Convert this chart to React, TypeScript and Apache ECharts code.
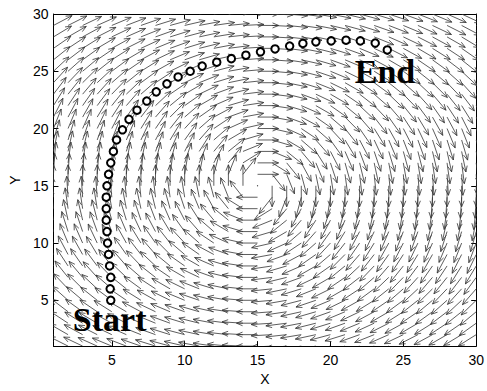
import React, { useEffect, useRef } from 'react';
import * as echarts from 'echarts';

// Quiver grid (arrow tails)
const GRID_X = [1, 2, 3, 4, 5, 6, 7, 8, 9, 10, 11, 12, 13, 14, 15, 16, 17, 18, 19, 20, 21, 22, 23, 24, 25, 26, 27, 28, 29, 30];
const GRID_Y = [1, 2, 3, 4, 5, 6, 7, 8, 9, 10, 11, 12, 13, 14, 15, 16, 17, 18, 19, 20, 21, 22, 23, 24, 25, 26, 27, 28, 29, 30];
// Clockwise vortex: centre and horizontal stretching of far arrows
const VORTEX_CENTER = [15, 15];
const FAR_STRETCH = 0.87;
const STRETCH_REF = 14;

// Trajectory (circles)
const TRACK_X = [4.93, 4.89, 4.93, 4.85, 4.78, 4.71, 4.67, 4.62, 4.62, 4.62, 4.67, 4.78, 4.93, 5.11, 5.33,
  5.73, 6.18, 6.73, 7.4, 8.05, 8.78, 9.55, 10.38, 11.2, 12.2, 13.2, 14.2, 15.2, 16.2, 17.2,
  18.11, 19.0, 20.05, 21.07, 22.05, 23.07, 23.9];
const TRACK_Y = [5, 6, 7, 8, 9, 10, 11, 12, 13, 14, 15, 16, 17, 18, 19,
  19.89, 20.8, 21.6, 22.4, 23.2, 23.9, 24.5, 25.0, 25.45, 25.79, 26.1, 26.4, 26.7, 26.95, 27.2,
  27.43, 27.57, 27.65, 27.71, 27.65, 27.46, 26.86];

const X_TICKS = [5, 10, 15, 20, 25, 30];
const Y_TICKS = [5, 10, 15, 20, 25, 30];

const LABEL_TEXT = ['Start', 'End'];
const LABEL_X = [2.33, 21.67];
const LABEL_Y = [3.35, 24.96];

const SANS = '"Liberation Sans", Arial, sans-serif';
const SERIF = '"Liberation Serif", "Times New Roman", serif';

export default function App() {
  const ref = useRef<HTMLDivElement>(null);
  useEffect(() => {
    if (!ref.current) return;
    const chart = echarts.init(ref.current, null, { renderer: 'svg' });

    const gridPts: number[][] = [];
    for (const gx of GRID_X) for (const gy of GRID_Y) gridPts.push([gx, gy]);
    const track = TRACK_X.map((x, i) => [x, TRACK_Y[i]]);

    const axisCommon = {
      type: 'value' as const,
      min: 1,
      max: 30,
      axisLine: { show: true, onZero: false, lineStyle: { color: '#000', width: 1 } },
      splitLine: { show: false },
    };

    chart.setOption({
      animation: false,
      backgroundColor: '#fff',
      grid: { left: 45, right: 7, top: 14, bottom: 34, containLabel: false },
      xAxis: [
        {
          ...axisCommon,
          position: 'bottom',
          name: 'X',
          nameLocation: 'middle',
          nameGap: 22,
          nameTextStyle: { color: '#000', fontSize: 14, fontFamily: SANS },
          axisTick: { show: true, inside: true, length: 5, customValues: X_TICKS, lineStyle: { color: '#000' } },
          axisLabel: { customValues: X_TICKS, color: '#000', fontSize: 14, fontFamily: SANS, margin: 7 },
        },
        {
          ...axisCommon,
          position: 'top',
          axisTick: { show: true, inside: true, length: 5, customValues: X_TICKS, lineStyle: { color: '#000' } },
          axisLabel: { show: false },
        },
      ],
      yAxis: [
        {
          ...axisCommon,
          position: 'left',
          name: 'Y',
          nameLocation: 'middle',
          nameGap: 29,
          nameRotate: 90,
          nameTextStyle: { color: '#000', fontSize: 14, fontFamily: SANS },
          axisTick: { show: true, inside: true, length: 5, customValues: Y_TICKS, lineStyle: { color: '#000' } },
          axisLabel: { customValues: Y_TICKS, color: '#000', fontSize: 14, fontFamily: SANS, margin: 5 },
        },
        {
          ...axisCommon,
          position: 'right',
          axisTick: { show: true, inside: true, length: 5, customValues: Y_TICKS, lineStyle: { color: '#000' } },
          axisLabel: { show: false },
        },
      ],
      series: [
        {
          type: 'custom',
          name: 'field',
          xAxisIndex: 0,
          yAxisIndex: 0,
          clip: true,
          silent: true,
          data: gridPts,
          renderItem: (params: any, api: any) => {
            const x = api.value(0);
            const y = api.value(1);
            const tail = api.coord([x, y]);
            const ux = api.coord([x + 1, y])[0] - tail[0];
            const uy = tail[1] - api.coord([x, y + 1])[1];
            const dx = x - VORTEX_CENTER[0];
            const dy = y - VORTEX_CENTER[1];
            if (dx === 0 && dy === 0) {
              return { type: 'circle', shape: { cx: tail[0], cy: tail[1], r: 0.6 }, style: { fill: '#444' } };
            }
            const px = dx * ux;
            const py = dy * uy;
            const r = Math.hypot(px, py);
            let tx = py / r;
            let ty = -px / r;
            const q = dy / STRETCH_REF;
            tx += FAR_STRETCH * q * Math.abs(q);
            const n = Math.hypot(tx, ty);
            tx /= n;
            ty /= n;
            const L = 21;
            const ex = tail[0] + L * tx;
            const ey = tail[1] - L * ty;
            const ang = Math.atan2(ey - tail[1], ex - tail[0]);
            const h = 6.5;
            const a = 0.4;
            const h1 = [ex - h * Math.cos(ang - a), ey - h * Math.sin(ang - a)];
            const h2 = [ex - h * Math.cos(ang + a), ey - h * Math.sin(ang + a)];
            const st = { stroke: '#333', lineWidth: 0.8, fill: null };
            return {
              type: 'group',
              children: [
                { type: 'line', shape: { x1: tail[0], y1: tail[1], x2: ex, y2: ey }, style: st },
                { type: 'polyline', shape: { points: [h1, [ex, ey], h2] }, style: st },
              ],
            };
          },
          z: 1,
        },
        {
          type: 'scatter',
          name: 'track',
          data: track,
          symbol: 'circle',
          symbolSize: 7.5,
          itemStyle: { color: '#fff', borderColor: '#000', borderWidth: 2, opacity: 1 },
          z: 3,
        },
      ],
    });

    const graphics = LABEL_TEXT.map((t, i) => {
      const p = chart.convertToPixel({ gridIndex: 0 }, [LABEL_X[i], LABEL_Y[i]]) as number[];
      return {
        type: 'text',
        x: p[0],
        y: p[1],
        z: 10,
        style: {
          text: t,
          fill: '#000',
          font: `bold 34px ${SERIF}`,
          align: 'left',
          verticalAlign: 'middle',
        },
      };
    });
    chart.setOption({ graphic: graphics });

    return () => chart.dispose();
  }, []);

  return <div ref={ref} style={{ position: 'absolute', left: 0, top: 0, width: 487, height: 391 }} />;
}
